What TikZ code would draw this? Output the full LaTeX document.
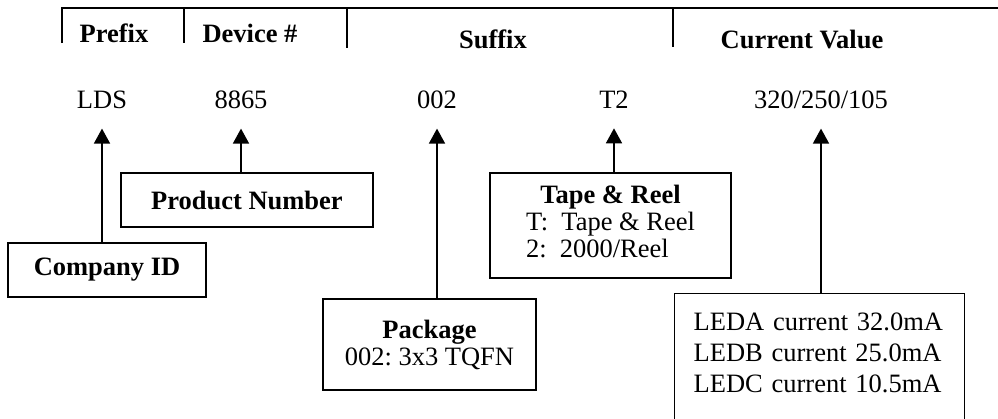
\documentclass[tikz,border=0pt]{standalone}
\usepackage{fontspec}
\setmainfont{Liberation Serif}
\usetikzlibrary{arrows.meta}
\frenchspacing

\tikzset{
  head/.style={font=\bfseries, anchor=base, inner sep=0pt},
  val/.style={anchor=base, inner sep=0pt},
  box/.style={draw, line width=0.9pt, align=center},
  up/.style={-{Triangle[length=6.8pt,width=7.2pt]}, line width=0.9pt, shorten >=9pt}
}

\begin{document}
\begin{tikzpicture}[x=0.453pt,y=0.453pt,node font=\fontsize{12}{14}\selectfont]
      \useasboundingbox (0,0) rectangle (998,-418);

      % field bar
      \draw[line width=0.9pt] (62,-43) -- (62,-8) -- (998,-8);
      \draw[line width=0.9pt] (184,-8) -- (184,-43);
      \draw[line width=0.9pt] (347,-8) -- (347,-48);
      \draw[line width=0.9pt] (673,-8) -- (673,-47);

      \node[head] (prefix) at (114,-42) {Prefix};
      \node[head] (device) at (250,-42) {Device \#};
      \node[head] (suffix) at (493,-48) {Suffix};
      \node[head] (curval) at (802,-48) {Current Value};

      \node[val] (lds) at (102,-108) {LDS};
      \node[val] (num) at (241,-108) {8865};
      \node[val] (pkg) at (437,-108) {002};
      \node[val] (tr) at (614,-108) {T2};
      \node[val] (amps) at (821,-108) {320/250/105};

      \node[box,minimum width=89.7pt,minimum height=24.5pt] (cid) at (107,-270) {\textbf{Company ID}};
      \node[box,minimum width=114.2pt,minimum height=24.5pt] (pnum) at (247,-200) {\textbf{Product Number}};
      \node[box,minimum width=96.5pt,minimum height=41.2pt,font=\fontsize{12}{12.2}\selectfont] (pack) at (429.5,-344.5)
        {\textbf{Package}\\002: 3x3 TQFN};
      \node[box,minimum width=109.2pt,minimum height=47.6pt,font=\fontsize{12}{12.2}\selectfont] (tape) at (610.5,-225.5)
        {\begin{tabular}{@{}l@{}}\multicolumn{1}{@{}c@{}}{\textbf{Tape \& Reel}}\\T:\ \ Tape \& Reel\\2:\ \ 2000/Reel\end{tabular}};
      \node[box,line width=0.6pt,anchor=north west,align=left,text width=114.2pt,inner xsep=8.6pt,inner ysep=8.9pt,
        font=\fontsize{12}{14}\selectfont] (led) at (674,-293)
        {LEDA current 32.0mA\\LEDB current 25.0mA\\LEDC current 10.5mA\\[12pt]~};

      \draw[up] (cid.north -| lds) -- (lds);
      \draw[up] (pnum.north -| num) -- (num);
      \draw[up] (pack.north -| pkg) -- (pkg);
      \draw[up] (tape.north -| tr) -- (tr);
      \draw[up] (led.north -| amps) -- (amps);
    \end{tikzpicture}
\end{document}
